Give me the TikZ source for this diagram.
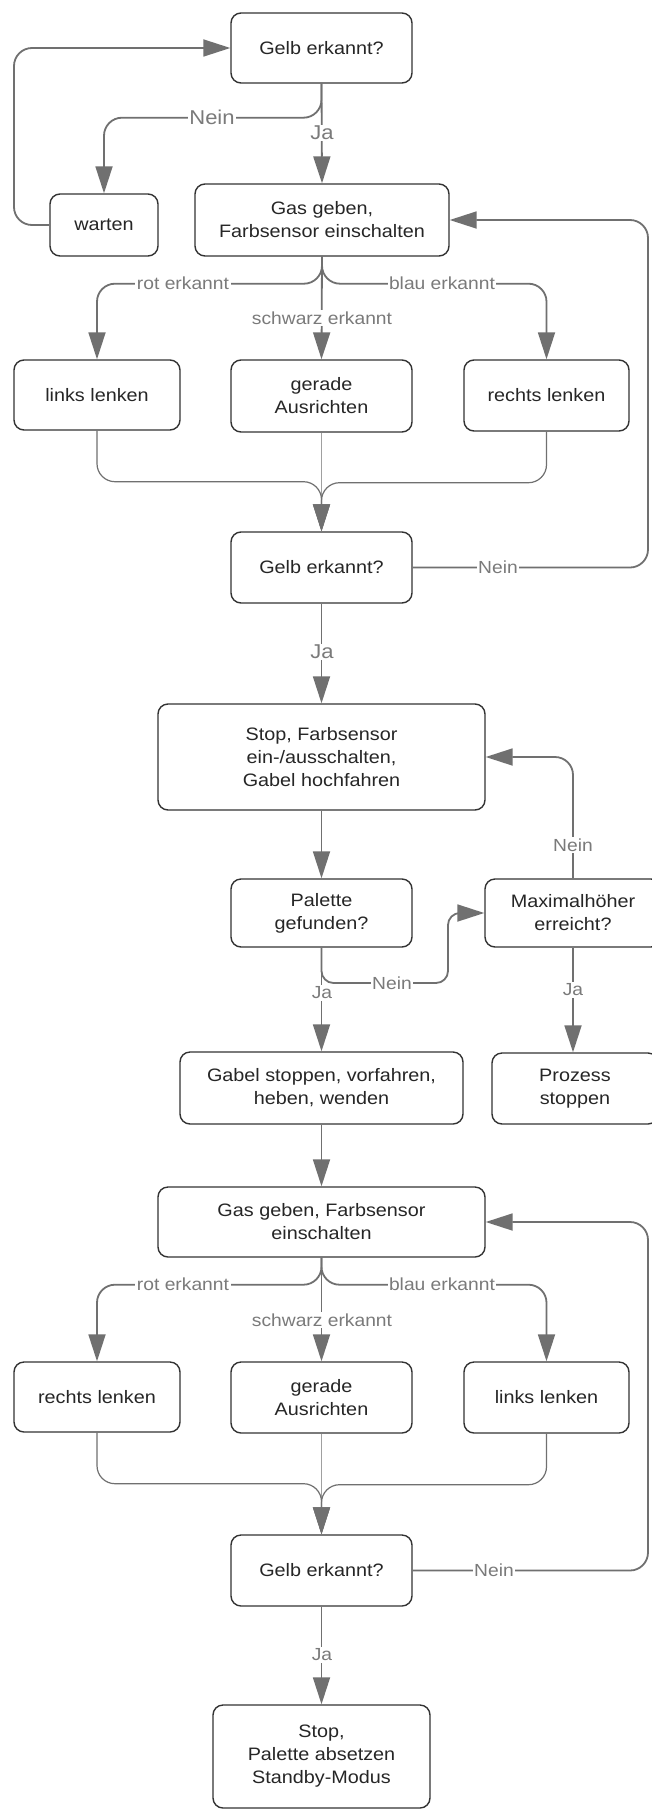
\documentclass[tikz,border=0pt]{standalone}
\usepackage{fontspec}
\setmainfont{Liberation Sans}[FakeStretch=1.1]
\usetikzlibrary{arrows.meta}
\definecolor{edgecol}{HTML}{707070}
\definecolor{thincol}{HTML}{A0A0A0}
\definecolor{boxline}{HTML}{333333}
\definecolor{lblcol}{HTML}{7A7A7A}
\begin{document}
\begin{tikzpicture}[x=1pt,y=-1pt,
  box/.style={draw=boxline, line width=1.4pt, rounded corners=10pt, fill=white,
    align=center, text=black!85, font=\fontsize{18}{23}\selectfont, inner sep=0pt},
  con/.style={draw=edgecol, line width=1.8pt, rounded corners=18pt},
  arr/.style={con, -{Triangle[length=27pt,width=17pt]}},
  merge/.style={arr, line width=1.2pt},
  thinarr/.style={arr, draw=thincol, line width=0.8pt, -{Triangle[length=27pt,width=17pt,fill=edgecol]}},
  lab/.style={text=lblcol, fill=white, inner sep=1.5pt, font=\fontsize{17.5}{20}\selectfont},
  biglab/.style={lab, font=\fontsize{20}{22}\selectfont}]
\useasboundingbox (0,0) rectangle (652,1809);
\fill[white] (0,0) rectangle (652,1809);

% ---------- nodes ----------
\node[box, minimum width=181pt, minimum height=70pt] (g1) at (321.5,48) {Gelb erkannt?};
\node[box, minimum width=108pt, minimum height=62pt] (warten) at (104,225) {warten};
\node[box, minimum width=254pt, minimum height=72pt] (gas1) at (322,220) {Gas geben,\\Farbsensor einschalten};
\node[box, minimum width=166pt, minimum height=70pt] (links1) at (97,395) {links lenken};
\node[box, minimum width=181pt, minimum height=72pt] (gerade1) at (321.5,396) {gerade\\Ausrichten};
\node[box, minimum width=165pt, minimum height=71pt] (rechts1) at (546.5,395.5) {rechts lenken};
\node[box, minimum width=181pt, minimum height=71pt] (g2) at (321.5,567.5) {Gelb erkannt?};
\node[box, minimum width=327pt, minimum height=106pt] (stop1) at (321.5,757) {Stop, Farbsensor\\ein-/ausschalten,\\Gabel hochfahren};
\node[box, minimum width=181pt, minimum height=68pt] (palette) at (321.5,913) {Palette\\gefunden?};
\node[box, minimum width=176pt, minimum height=68pt] (maxh) at (573,913) {Maximalhöher\\erreicht?};
\node[box, minimum width=283pt, minimum height=72pt] (gabel) at (321.5,1088) {Gabel stoppen, vorfahren,\\heben, wenden};
\node[box, minimum width=166pt, minimum height=71pt] (prozess) at (575,1088.5) {Prozess\\stoppen};
\node[box, minimum width=327pt, minimum height=70pt] (gas2) at (321.5,1222) {Gas geben, Farbsensor\\einschalten};
\node[box, minimum width=166pt, minimum height=70pt] (rechts2) at (97,1397) {rechts lenken};
\node[box, minimum width=181pt, minimum height=71pt] (gerade2) at (321.5,1397.5) {gerade\\Ausrichten};
\node[box, minimum width=165pt, minimum height=71pt] (links2) at (546.5,1397.5) {links lenken};
\node[box, minimum width=181pt, minimum height=71pt] (g3) at (321.5,1570.5) {Gelb erkannt?};
\node[box, minimum width=217pt, minimum height=103pt] (final) at (321.5,1756.5) {Stop,\\Palette absetzen\\Standby-Modus};

% ---------- connectors: top ----------
\draw[arr] (warten.west) -- (14,225) -- (14,48) -- (g1.west);
\draw[arr] (g1.south) -- (gas1.north);
\draw[arr] (g1.south) -- ++(0,34) -| (warten.north);
\node[biglab] (nein1) at (212,117) {Nein};
\node[biglab] (ja1) at (322,133) {Ja};

% ---------- first colour branch ----------
\draw[arr] (gas1.south) -- (gerade1.north);
\draw[arr] (gas1.south) -- ++(0,27) -| (links1.north);
\draw[arr] (gas1.south) -- ++(0,27) -| (rechts1.north);
\node[lab] (rot1) at (183,283) {rot erkannt};
\node[lab] (blau1) at (442,283) {blau erkannt};
\node[lab] (schw1) at (322,318) {schwarz erkannt};

\draw[thinarr] (gerade1.south) -- (g2.north);
\draw[merge] (links1.south) -- ++(0,51) -| (g2.north);
\draw[merge] (rechts1.south) -- ++(0,51) -| (g2.north);

\draw[arr] (g2.east) -- (648,567.5) -- (648,220) -- (gas1.east);
\node[lab] (nein2) at (498,567.5) {Nein};

\draw[arr] (g2.south) -- (stop1.north);
\node[biglab] (ja2) at (322,652) {Ja};

% ---------- fork / pallet ----------
\draw[arr] (stop1.south) -- (palette.north);
\draw[arr] (palette.south) -- (gabel.north);
\node[lab] (ja3) at (322,993) {Ja};
\draw[arr, rounded corners=12pt] (palette.south) -- (321.5,983) -- (448,983) -- (448,913) -- (maxh.west);
\node[lab] (nein3) at (392,983) {Nein};

\draw[arr] (maxh.north) -- (573,757) -- (stop1.east);
\node[lab] (nein4) at (573,845) {Nein};
\draw[arr] (maxh.south) -- (maxh.south |- prozess.north);
\node[lab] (ja4) at (573,990) {Ja};

\draw[arr] (gabel.south) -- (gas2.north);

% ---------- second colour branch ----------
\draw[arr] (gas2.south) -- (gerade2.north);
\draw[arr] (gas2.south) -- ++(0,27) -| (rechts2.north);
\draw[arr] (gas2.south) -- ++(0,27) -| (links2.north);
\node[lab] (rot2) at (183,1284) {rot erkannt};
\node[lab] (blau2) at (442,1284) {blau erkannt};
\node[lab] (schw2) at (322,1320) {schwarz erkannt};

\draw[thinarr] (gerade2.south) -- (g3.north);
\draw[merge] (rechts2.south) -- ++(0,51) -| (g3.north);
\draw[merge] (links2.south) -- ++(0,51) -| (g3.north);

\draw[arr] (g3.east) -- (648,1570.5) -- (648,1222) -- (gas2.east);
\node[lab] (nein5) at (494,1570.5) {Nein};

\draw[arr] (g3.south) -- (final.north);
\node[lab] (ja5) at (322,1655) {Ja};
\end{tikzpicture}
\end{document}
